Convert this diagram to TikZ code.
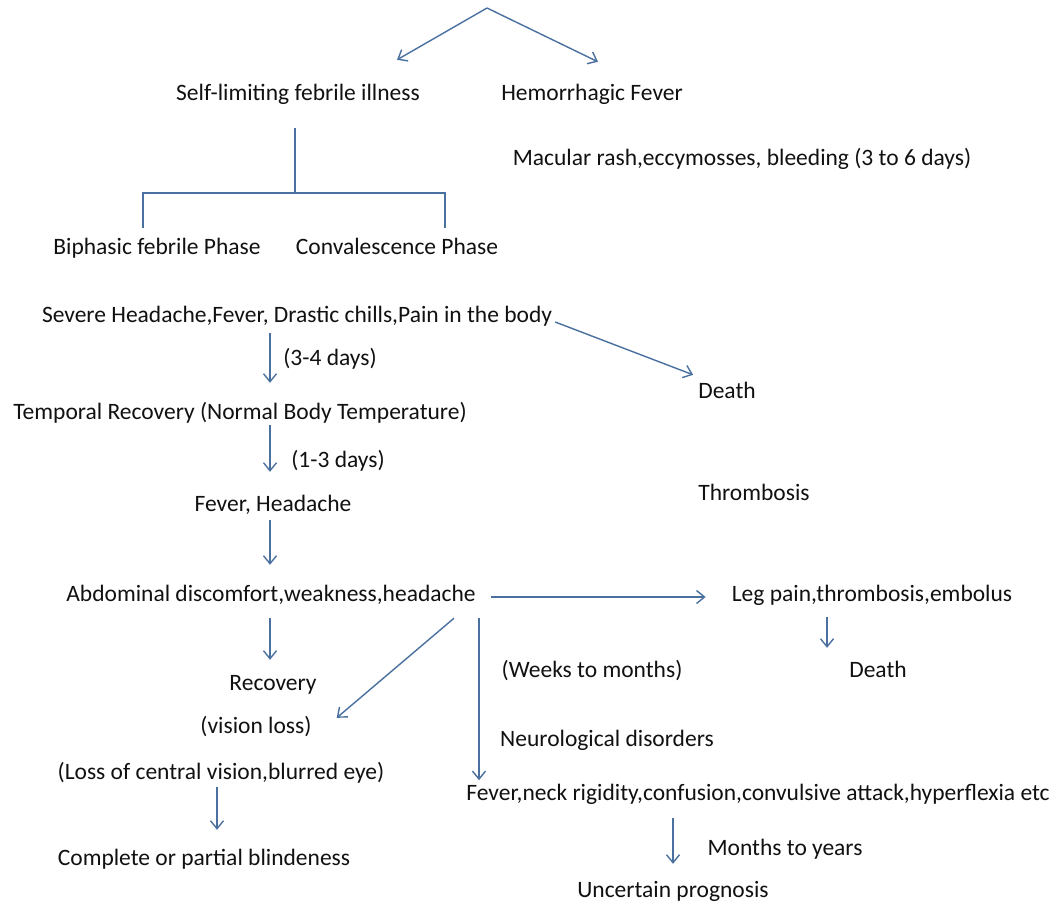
\documentclass[tikz,border=0pt]{standalone}
\usepackage{fontspec}
\setmainfont{Carlito}
\usetikzlibrary{arrows.meta,calc}
\definecolor{lineblue}{HTML}{4A70A0}
\definecolor{txt}{HTML}{111111}
\tikzset{
  lbl/.style={inner sep=0pt, text height=14pt, text depth=4pt, font=\fontsize{23.5}{26}\selectfont, text=txt},
  arr/.style={draw=lineblue, line width=1.4pt, -{Straight Barb[length=8pt,width=13pt,line width=1.4pt]}},
  tl/.style={draw=lineblue, line width=1.4pt}
}
\begin{document}
\begin{tikzpicture}[x=1pt,y=-1pt]
\useasboundingbox[fill=white] (0,0) rectangle (1059,906);
\coordinate (top) at (487,8);
\node[lbl] (self) at (298,95) {Self-limiting febrile illness};
\node[lbl] (hem) at (592,95) {Hemorrhagic Fever};
\node[lbl] (mac) at (742,160) {Macular rash,eccymosses, bleeding (3 to 6 days)};
\node[lbl] (bip) at (157,249) {Biphasic febrile Phase};
\node[lbl] (conv) at (397,249) {Convalescence Phase};
\node[lbl] (sev) at (297,317) {Severe Headache,Fever, Drastic chills,Pain in the body};
\node[lbl] (d34) at (330,360) {(3-4 days)};
\node[lbl] (death1) at (727,393) {Death};
\node[lbl] (temp) at (240,414) {Temporal Recovery (Normal Body Temperature)};
\node[lbl] (d13) at (338,462) {(1-3 days)};
\node[lbl] (fh) at (273,506) {Fever, Headache};
\node[lbl] (thr) at (754,495) {Thrombosis};
\node[lbl] (abd) at (271,596) {Abdominal discomfort,weakness,headache};
\node[lbl] (leg) at (872,596) {Leg pain,thrombosis,embolus};
\node[lbl] (death2) at (878,672) {Death};
\node[lbl] (rec) at (273,685) {Recovery};
\node[lbl] (wtm) at (592,672) {(Weeks to months)};
\node[lbl] (vis) at (256,728) {(vision loss)};
\node[lbl] (neu) at (607,741) {Neurological disorders};
\node[lbl] (loss) at (221,774) {(Loss of central vision,blurred eye)};
\node[lbl] (fnr) at (758,795) {Fever,neck rigidity,confusion,convulsive attack,hyperflexia etc};
\node[lbl] (blind) at (204,860) {Complete or partial blindeness};
\node[lbl] (mty) at (785,850) {Months to years};
\node[lbl] (unc) at (673,892) {Uncertain prognosis};

\draw[arr] (top) -- ($(self.north)+(99,-26)$);
\draw[arr] (top) -- ($(hem.north)+(6,-24)$);
\coordinate (j) at ($(self.south)+(-3,89)$);
\draw[tl] ($(self.south)+(-3,24)$) -- (j);
\draw[tl] ($(bip.north)+(-14,-12)$) |- ($(conv.north)+(48,-47)$) -- ($(conv.north)+(48,-12)$);
\draw[arr] ($(sev.south)+(-27,7)$) -- ($(temp.north)+(30,-22)$);
\draw[arr] ($(sev.east)+(3,5)$) -- ($(death1.north west)+(-5,-9)$);
\draw[arr] ($(temp.south)+(30,2)$) -- ($(fh.north)+(-3,-25)$);
\draw[arr] ($(fh.south)+(-3,5)$) -- ($(abd.north)+(-1,-22)$);
\draw[arr] ($(abd.east)+(15,1)$) -- ($(leg.west)+(-26,1)$);
\draw[arr] ($(leg.south)+(-45,12)$) -- ($(death2.north)+(-51,-15)$);
\draw[arr] ($(abd.south)+(-1,13)$) -- ($(rec.north)+(-3,-16)$);
\draw[arr] ($(abd.south)+(183,13)$) -- ($(vis.north east)+(25,-1)$);
\draw[arr] ($(abd.south)+(208,13)$) -- ($(abd.south)+(208,175)$);
\draw[arr] ($(loss.south)+(-4,4)$) -- ($(blind.north)+(13,-21)$);
\draw[arr] ($(fnr.south)+(-85,14)$) -- ($(unc.north)+(0,-19)$);
\end{tikzpicture}
\end{document}
